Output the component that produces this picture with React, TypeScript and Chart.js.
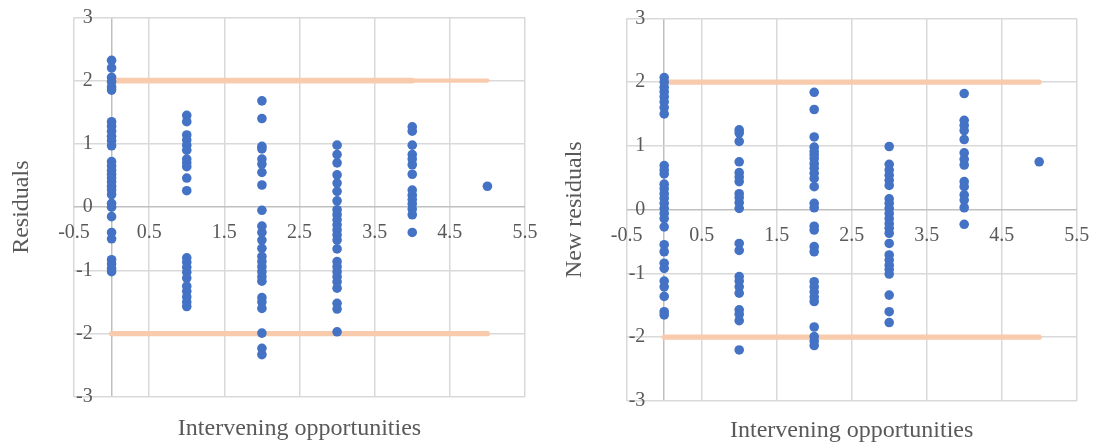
import React, { useEffect, useRef } from 'react';
import { Chart, registerables } from 'chart.js';

Chart.register(...registerables);

// ---- Data ----
const groupX = [0, 1, 2, 3, 4, 5];
const xTickValues = [-0.5, 0, 0.5, 1.5, 2.5, 3.5, 4.5, 5.5];
const yTickValues = [-3, -2, -1, 0, 1, 2, 3];
const limitX = [0, 5];
const limitXShort = [0, 4];
const upperLimit = 2;
const lowerLimit = -2;

// Left chart: Residuals by intervening opportunities
const residualsAt0 = [2.32, 2.2, 2.05, 1.98, 1.9, 1.85, 1.35, 1.28, 1.2, 1.12, 1.05, 0.97, 0.72, 0.65, 0.58, 0.52, 0.46, 0.4, 0.33, 0.27, 0.2, 0.06, 0.0, -0.15, -0.4, -0.5, -0.83, -0.9, -0.97, -1.02];
const residualsAt1 = [1.45, 1.35, 1.14, 1.06, 0.98, 0.9, 0.76, 0.7, 0.64, 0.46, 0.26, -0.8, -0.87, -0.95, -1.03, -1.12, -1.25, -1.33, -1.42, -1.5, -1.57];
const residualsAt2 = [1.68, 1.4, 0.96, 0.92, 0.76, 0.68, 0.55, 0.35, -0.05, -0.3, -0.4, -0.52, -0.65, -0.78, -0.86, -0.94, -1.02, -1.1, -1.17, -1.43, -1.5, -1.6, -1.99, -2.23, -2.33];
const residualsAt3 = [0.98, 0.83, 0.7, 0.51, 0.38, 0.25, 0.1, -0.04, -0.12, -0.2, -0.28, -0.36, -0.44, -0.52, -0.66, -0.86, -0.94, -1.02, -1.1, -1.18, -1.28, -1.52, -1.61, -1.97];
const residualsAt4 = [1.27, 1.2, 0.98, 0.83, 0.76, 0.67, 0.52, 0.27, 0.19, 0.12, 0.05, -0.03, -0.12, -0.4];
const residualsAt5 = [0.33];

// Right chart: New residuals by intervening opportunities
const newResidualsAt0 = [2.07, 2.0, 1.92, 1.85, 1.77, 1.69, 1.6, 1.5, 0.69, 0.62, 0.56, 0.4, 0.33, 0.25, 0.18, 0.1, 0.02, -0.06, -0.14, -0.27, -0.55, -0.66, -0.84, -0.92, -1.12, -1.21, -1.36, -1.6, -1.65];
const newResidualsAt1 = [1.25, 1.2, 1.07, 0.75, 0.58, 0.51, 0.44, 0.25, 0.19, 0.11, 0.02, -0.53, -0.64, -1.05, -1.12, -1.21, -1.31, -1.57, -1.64, -1.74, -2.2];
const newResidualsAt2 = [1.84, 1.57, 1.14, 0.98, 0.91, 0.86, 0.8, 0.72, 0.65, 0.57, 0.49, 0.36, 0.1, 0.03, -0.26, -0.32, -0.58, -0.66, -1.13, -1.21, -1.29, -1.37, -1.44, -1.84, -1.99, -2.06, -2.13];
const newResidualsAt3 = [0.99, 0.71, 0.62, 0.54, 0.46, 0.38, 0.17, 0.1, 0.02, -0.06, -0.14, -0.22, -0.29, -0.37, -0.53, -0.71, -0.79, -0.87, -0.94, -1.01, -1.34, -1.6, -1.77];
const newResidualsAt4 = [1.82, 1.4, 1.32, 1.24, 1.1, 0.89, 0.79, 0.7, 0.44, 0.36, 0.23, 0.15, 0.03, -0.23];
const newResidualsAt5 = [0.75];

const xTitle = 'Intervening opportunities';

// ---- Styles ----
const BLUE = '#4472c4';
const PEACH = '#f8cbad';
const GRID = '#d9d9d9';
const AXIS = '#bfbfbf';
const TEXT = '#595959';
const FAMILY = '"Liberation Serif", "Times New Roman", serif';

function toPoints(groups: number[][]) {
  const pts: { x: number; y: number }[] = [];
  groups.forEach((g, i) => g.forEach((v) => pts.push({ x: groupX[i], y: v })));
  return pts;
}

type PanelProps = {
  left: number;
  width: number;
  groups: number[][];
  yTitle: string;
  plotLeft: number;
  padTop: number;
  padRight: number;
  bottomH: number;
  yTitlePad: number;
  xTitlePad: number;
  doubleUpper: boolean;
};

function Panel(p: PanelProps) {
  const ref = useRef<HTMLCanvasElement | null>(null);
  useEffect(() => {
    if (!ref.current) return;
    const lineDs = (xs: number[], y: number, w: number) => ({
      type: 'scatter' as const,
      data: xs.map((x) => ({ x, y })),
      showLine: true,
      borderColor: PEACH,
      backgroundColor: PEACH,
      borderWidth: w,
      borderCapStyle: 'round' as const,
      pointRadius: 0,
      xAxisID: 'x',
      yAxisID: 'y',
      order: 1,
    });
    const datasets: any[] = [
      {
        type: 'scatter',
        data: toPoints(p.groups),
        backgroundColor: BLUE,
        borderColor: BLUE,
        borderWidth: 0,
        pointRadius: 4.8,
        xAxisID: 'x',
        yAxisID: 'y',
        order: 0,
      },
      lineDs(limitX, upperLimit, p.doubleUpper ? 4.2 : 5.2),
      lineDs(limitX, lowerLimit, 5.2),
    ];
    if (p.doubleUpper) datasets.push(lineDs(limitXShort, upperLimit, 5.6));

    const chart = new Chart(ref.current, {
      type: 'scatter',
      data: { datasets },
      options: {
        animation: false,
        responsive: false,
        events: [],
        layout: { padding: { left: 0, right: p.padRight, top: p.padTop, bottom: 0 } },
        plugins: { legend: { display: false }, tooltip: { enabled: false } },
        scales: {
          x: {
            type: 'linear',
            min: -0.5,
            max: 5.5,
            position: { y: 0 } as any,
            afterBuildTicks: (s: any) => {
              s.ticks = xTickValues.map((v) => ({ value: v }));
            },
            ticks: {
              autoSkip: false,
              maxRotation: 0,
              padding: 2,
              color: TEXT,
              font: { family: FAMILY, size: 20, lineHeight: 2.4 },
              callback: (v: any) => (Number(v) === 0 ? '' : String(v)),
            },
            grid: {
              drawTicks: false,
              lineWidth: 1.5,
              color: (ctx: any) => (ctx.tick && ctx.tick.value === 0 ? AXIS : GRID),
            },
            border: { display: false },
          },
          y: {
            type: 'linear',
            min: -3,
            max: 3,
            position: 'left',
            afterBuildTicks: (s: any) => {
              s.ticks = yTickValues.map((v) => ({ value: v }));
            },
            afterFit: (s: any) => {
              s.width = p.plotLeft;
            },
            ticks: {
              mirror: true,
              crossAlign: 'far',
              padding: 2,
              color: TEXT,
              font: { family: FAMILY, size: 20 },
            },
            grid: {
              drawTicks: false,
              lineWidth: 1.5,
              color: (ctx: any) => (ctx.tick && ctx.tick.value === 0 ? AXIS : GRID),
            },
            border: { display: false },
            title: {
              display: true,
              text: p.yTitle,
              color: TEXT,
              font: { family: FAMILY, size: 24 },
              padding: { top: p.yTitlePad, bottom: 0 },
            },
          },
          xt: {
            type: 'linear',
            position: 'bottom',
            grid: { display: false },
            ticks: { display: false },
            border: { display: false },
            afterFit: (s: any) => {
              s.height = p.bottomH;
            },
            title: {
              display: true,
              text: xTitle,
              color: TEXT,
              font: { family: FAMILY, size: 24 },
              padding: { top: 0, bottom: p.xTitlePad },
            },
          },
        } as any,
      },
    });
    return () => chart.destroy();
  }, []);
  return (
    <canvas
      ref={ref}
      width={p.width}
      height={443}
      style={{ position: 'absolute', left: p.left, top: 0, width: p.width, height: 443 }}
    />
  );
}

export default function App() {
  return (
    <div style={{ position: 'absolute', left: 0, top: 0, width: 1095, height: 443, background: '#ffffff' }}>
      <Panel
        left={0}
        width={547}
        groups={[residualsAt0, residualsAt1, residualsAt2, residualsAt3, residualsAt4, residualsAt5]}
        yTitle="Residuals"
        plotLeft={74}
        padTop={17.3}
        padRight={22}
        bottomH={46}
        yTitlePad={7.6}
        xTitlePad={-0.5}
        doubleUpper={true}
      />
      <Panel
        left={547}
        width={548}
        groups={[newResidualsAt0, newResidualsAt1, newResidualsAt2, newResidualsAt3, newResidualsAt4, newResidualsAt5]}
        yTitle="New residuals"
        plotLeft={79.7}
        padTop={18.3}
        padRight={18.3}
        bottomH={42}
        yTitlePad={13.6}
        xTitlePad={-2.5}
        doubleUpper={false}
      />
    </div>
  );
}
